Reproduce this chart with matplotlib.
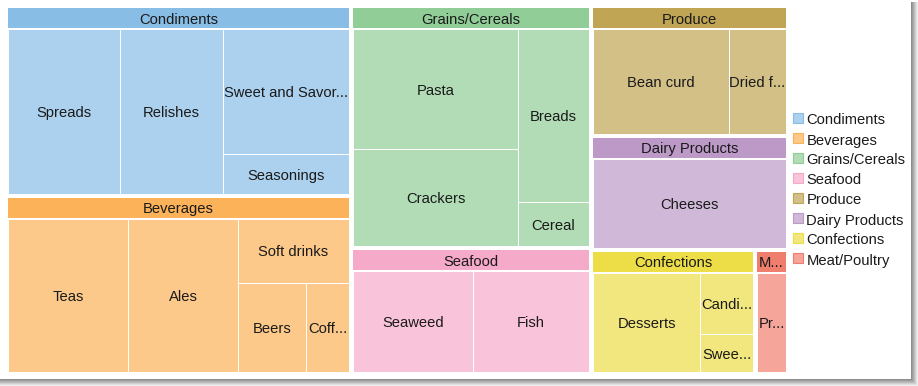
import matplotlib
matplotlib.use("Agg")
import matplotlib.pyplot as plt
from matplotlib.patches import Rectangle

# product categories and their product sales (thousands)
groups = ["Condiments", "Beverages", "Grains/Cereals", "Seafood",
          "Produce", "Dairy Products", "Confections", "Meat/Poultry"]
products = {
    "Condiments": ["Spreads", "Relishes", "Sweet and Savory sauces", "Seasonings"],
    "Beverages": ["Teas", "Ales", "Soft drinks", "Beers", "Coffee"],
    "Grains/Cereals": ["Pasta", "Crackers", "Breads", "Cereal"],
    "Seafood": ["Seaweed", "Fish"],
    "Produce": ["Bean curd", "Dried fruit and nuts"],
    "Dairy Products": ["Cheeses"],
    "Confections": ["Desserts", "Candies", "Sweetened goods"],
    "Meat/Poultry": ["Prepared meats"],
}
sales = {
    "Condiments": [215.3, 198.0, 183.9, 58.3],
    "Beverages": [216.1, 198.1, 83.1, 71.6, 45.3],
    "Grains/Cereals": [225.4, 180.7, 139.5, 35.3],
    "Seafood": [153.6, 148.8],
    "Produce": [180.5, 75.6],
    "Dairy Products": [224.6],
    "Confections": [136.0, 41.8, 25.6],
    "Meat/Poultry": [40.9],
}
# 'light' palette
palette = ["#88BDE6", "#FBB258", "#90CD97", "#F6AAC9",
           "#BFA554", "#BC99C7", "#EDDD46", "#F07E6E"]

W, H = 918, 386
FS = 10.6
TXT = "#1a1a1a"
plt.rcParams['font.family'] = ['Liberation Sans', 'DejaVu Sans']


def lighten(hexcol, a=0.7):
    c = matplotlib.colors.to_rgb(hexcol)
    return tuple(v * a + (1 - a) for v in c)


def worst(row, side):
    s = sum(row)
    return max(max(side * side * r / (s * s), s * s / (side * side * r)) for r in row)


def squarify(values, x, y, w, h):
    # Bruls et al. squarified layout, y grows downwards
    order = sorted(range(len(values)), key=lambda i: -values[i])
    total = sum(values)
    areas = [values[i] * w * h / total for i in order]
    out = [None] * len(values)
    k = 0
    while k < len(areas):
        side = min(w, h)
        row = [areas[k]]
        j = k + 1
        while j < len(areas) and worst(row + [areas[j]], side) <= worst(row, side):
            row.append(areas[j])
            j += 1
        s = sum(row)
        if w >= h:
            cw = s / h
            yy = y
            for n, r in enumerate(row):
                out[order[k + n]] = (x, yy, cw, r / cw)
                yy += r / cw
            x += cw
            w -= cw
        else:
            rh = s / w
            xx = x
            for n, r in enumerate(row):
                out[order[k + n]] = (xx, y, r / rh, rh)
                xx += r / rh
            y += rh
            h -= rh
        k = j
    return out


fig = plt.figure(figsize=(W / 100, H / 100), dpi=100)
ax = fig.add_axes([0, 0, 1, 1])
ax.set_xlim(0, W)
ax.set_ylim(H, 0)
ax.axis("off")
renderer = fig.canvas.get_renderer()


def fit_label(x, y, w, label):
    t = ax.text(x, y, label, ha="center", va="center", fontsize=FS, color=TXT)
    avail = w - 0.5
    if t.get_window_extent(renderer).width <= avail:
        return t
    s = label
    while len(s) > 1:
        s = s[:-1]
        t.set_text(s.rstrip() + "...")
        if t.get_window_extent(renderer).width <= avail:
            break
    return t


# drop shadow of the chart frame
for n in range(7):
    g = 0.55 + n * 0.065
    ax.add_patch(Rectangle((911 + n, 2), 1, 378 + n, color=str(g), lw=0))
    ax.add_patch(Rectangle((0, 379 + n), 911 + n, 1, color=str(g), lw=0))

totals = [sum(sales[g]) for g in groups]
group_rects = squarify(totals, 6, 6, 782, 368)
PAD, HEAD = 2, 20

for gi, (g, (gx, gy, gw, gh)) in enumerate(zip(groups, group_rects)):
    x0, y0, w0, h0 = gx + PAD, gy + PAD, gw - 2 * PAD, gh - 2 * PAD
    ax.add_patch(Rectangle((x0, y0), w0, HEAD, facecolor=palette[gi], lw=0))
    fit_label(x0 + w0 / 2, y0 + HEAD / 2 + 1.5, w0, g)
    iy = y0 + HEAD + 1
    ih = h0 - HEAD - 1
    cells = squarify(sales[g], x0, iy, w0, ih)
    for name, (cx, cy, cw, ch) in zip(products[g], cells):
        ax.add_patch(Rectangle((cx, cy), cw, ch, facecolor=lighten(palette[gi]),
                               edgecolor="white", lw=0.72))
        fit_label(cx + cw / 2, cy + ch / 2 + 1.5, cw, name)

# legend
for i, g in enumerate(groups):
    ax.add_patch(Rectangle((792.5, 113 + i * 20), 10, 10, facecolor=lighten(palette[i]),
                           edgecolor=palette[i], lw=0.8))
    ax.text(806.5, 120.5 + i * 20, g, ha="left", va="center", fontsize=FS, color=TXT)

fig.savefig("out.png", dpi=100)
